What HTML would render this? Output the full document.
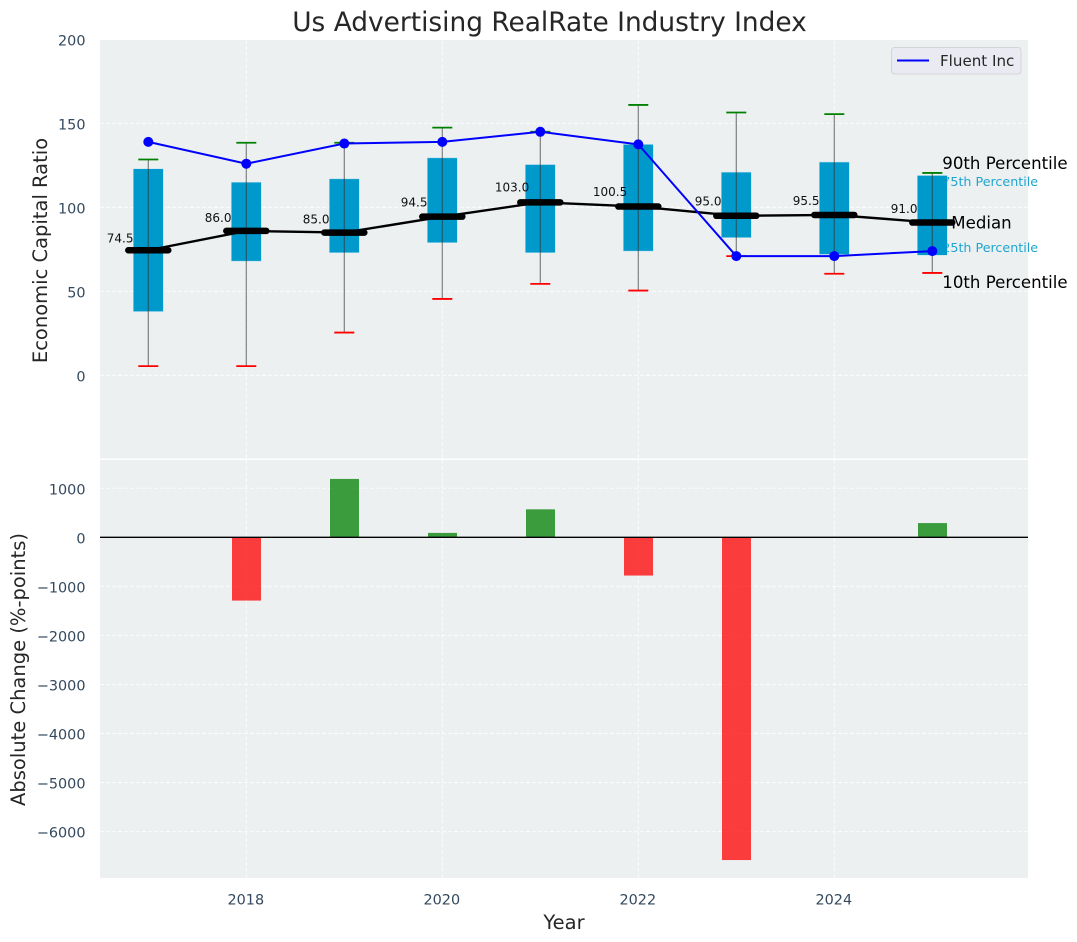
<!DOCTYPE html>
<html lang="en">
<head>
<meta charset="utf-8">
<title>Us Advertising RealRate Industry Index</title>
<style>
html,body{margin:0;padding:0;background:#fff;}
svg{display:block;font-family:"DejaVu Sans","Liberation Sans",sans-serif;}
</style>
</head>
<body>
<svg id="chart" xmlns="http://www.w3.org/2000/svg" width="1077" height="942" viewBox="0 0 1077 942">
  <rect x="0" y="0" width="1077" height="942" fill="#ffffff"/>
  <rect x="100" y="40" width="928" height="418.5" fill="#ecf0f1"/>
  <rect x="100" y="460" width="928" height="418" fill="#ecf0f1"/>
  <g id="grid"></g>
  <g id="labelsUnder"></g>
  <g id="boxes"></g>
  <g id="whiskers"></g>
  <g id="medians"></g>
  <g id="fluent"></g>
  <g id="labelsOver"></g>
  <g id="bars"></g>
  <line x1="100" x2="1028" y1="537.3" y2="537.3" stroke="#000000" stroke-width="1.3"/>
  <g id="ticks"></g>
  <text x="549.5" y="31" text-anchor="middle" font-size="26.4px" fill="#262626">Us Advertising RealRate Industry Index</text>
  <text transform="translate(47,250.5) rotate(-90)" text-anchor="middle" font-size="19.5px" fill="#262626">Economic Capital Ratio</text>
  <text transform="translate(25,669.5) rotate(-90)" text-anchor="middle" font-size="19.5px" fill="#262626">Absolute Change (%-points)</text>
  <text x="564" y="929" text-anchor="middle" font-size="19.5px" fill="#262626">Year</text>
  <g>
    <rect x="891.5" y="47.5" width="129.5" height="26.5" rx="3" fill="#eaeaf2" stroke="#d4d4d8" stroke-width="1"/>
    <line x1="897" x2="929" y1="60.5" y2="60.5" stroke="#0000ff" stroke-width="2"/>
    <text x="940" y="66" font-size="15.1px" fill="#262626">Fluent Inc</text>
  </g>
</svg>
<script>
const years = [2017, 2018, 2019, 2020, 2021, 2022, 2023, 2024, 2025];
const p90 = [128.5, 138.5, 138.5, 147.5, 145, 161, 156.5, 155.5, 120.5];
const q3 = [123, 115, 117, 129.5, 125.5, 137.5, 121, 127, 119];
const medianValues = [74.5, 86.0, 85.0, 94.5, 103.0, 100.5, 95.0, 95.5, 91.0];
const q1 = [38, 68, 73, 79, 73, 74, 82, 72, 71.5];
const p10 = [5.5, 5.5, 25.5, 45.5, 54.5, 50.5, 71, 60.5, 61];
const fluentInc = [139, 126, 138, 139, 145, 137.5, 71, 71, 74];
const absoluteChange = [0, -1290, 1190, 90, 570, -780, -6580, 0, 290];
const xTicks = [2018, 2020, 2022, 2024];
const topYTicks = [0, 50, 100, 150, 200];
const bottomYTicks = [1000, 0, -1000, -2000, -3000, -4000, -5000, -6000];

const sx = v => 148.3 + (v - 2017) * 98;
const sy = v => 375.4 - v * 1.68;
const sb = v => 537.3 - v * 0.04905;
const NS = 'http://www.w3.org/2000/svg';
function mk(tag, parent, props, text) {
  const el = document.createElementNS(NS, tag);
  for (const k in props) el.setAttribute(k, props[k]);
  if (text !== undefined) el.textContent = text;
  document.getElementById(parent).appendChild(el);
  return el;
}
const gridColor = 'rgba(255,255,255,0.8)';
const tickFont = '14.4px';

/* grid lines */
xTicks.forEach(t => {
  const a = mk('line', 'grid', {x1: sx(t), x2: sx(t), y1: 40, y2: 458.5, stroke: gridColor, 'stroke-width': 1, 'stroke-dasharray': '4 2'});
  
  
  const b = mk('line', 'grid', {x1: sx(t), x2: sx(t), y1: 460, y2: 878, stroke: gridColor, 'stroke-width': 1, 'stroke-dasharray': '4 2'});
  
  
  const l = mk('text', 'ticks', {x: sx(t) - 0.5, y: 904.6, 'text-anchor': 'middle', 'font-size': tickFont, fill: '#34495e'}, String(t));
  
  
});
topYTicks.forEach(t => {
  const a = mk('line', 'grid', {x1: 100, x2: 1028, y1: sy(t), y2: sy(t), stroke: gridColor, 'stroke-width': 1, 'stroke-dasharray': '4 2'});
  
  
  const l = mk('text', 'ticks', {x: 85.5, y: sy(t) + 6, 'text-anchor': 'end', 'font-size': tickFont, fill: '#34495e'}, String(t));
  
  
});
bottomYTicks.forEach(t => {
  const a = mk('line', 'grid', {x1: 100, x2: 1028, y1: sb(t), y2: sb(t), stroke: gridColor, 'stroke-width': 1, 'stroke-dasharray': '4 2'});
  
  
  const l = mk('text', 'ticks', {x: 85.5, y: sb(t) + 6, 'text-anchor': 'end', 'font-size': tickFont, fill: '#34495e'}, String(t).replace('-', '\u2212'));
  
  
});

/* percentile notes beneath the last box */
const last = years.length - 1;
const x25 = sx(years[last]);
const n75 = mk('text', 'labelsUnder', {x: x25 + 10, y: sy(q3[last]) + 10.5, 'font-size': '12.7px', fill: '#1fa5d0'}, '75th Percentile');


const n25 = mk('text', 'labelsUnder', {x: x25 + 10, y: sy(q1[last]) - 3.5, 'font-size': '12.7px', fill: '#1fa5d0'}, '25th Percentile');



/* printed median values: centred left of each box, raised proportionally to the value */
years.forEach((y, i) => {
  const t = mk('text', 'labelsOver', {x: sx(y) - 28.2, y: sy(medianValues[i] * 1.07) + 1.1, 'text-anchor': 'middle', 'font-size': '12px', fill: '#111111'}, medianValues[i].toFixed(1));
  
  
});

/* boxes */
years.forEach((y, i) => {
  const r = mk('rect', 'boxes', {x: sx(y) - 15, y: sy(q3[i]), width: 30, height: sy(q1[i]) - sy(q3[i]), fill: '#0099cc', stroke: '#bfe3ef', 'stroke-width': 0.5});
  
  
});

/* whiskers and caps */
years.forEach((y, i) => {
  const w = mk('line', 'whiskers', {x1: sx(y), x2: sx(y), y1: sy(p90[i]), y2: sy(p10[i]), stroke: 'rgba(50,50,50,0.6)', 'stroke-width': 1.2});
  
  
  const h = mk('line', 'whiskers', {x1: sx(y) - 10, x2: sx(y) + 10, y1: sy(p90[i]), y2: sy(p90[i]), stroke: '#008000', 'stroke-width': 1.8});
  
  
  const c = mk('line', 'whiskers', {x1: sx(y) - 10, x2: sx(y) + 10, y1: sy(p10[i]), y2: sy(p10[i]), stroke: '#ff0000', 'stroke-width': 1.8});
  
  
});

/* median series */
const medLine = mk('polyline', 'medians', {points: years.map((y, i) => sx(y) + ',' + sy(medianValues[i])).join(' '), fill: 'none', stroke: '#000000', 'stroke-width': 2.4});


years.forEach((y, i) => {
  const m = mk('line', 'medians', {x1: sx(y) - 20, x2: sx(y) + 20, y1: sy(medianValues[i]), y2: sy(medianValues[i]), stroke: '#000000', 'stroke-width': 6.5, 'stroke-linecap': 'round'});
  
  
});

/* fluent series */
const fl = mk('polyline', 'fluent', {points: years.map((y, i) => sx(y) + ',' + sy(fluentInc[i])).join(' '), fill: 'none', stroke: '#0000ff', 'stroke-width': 2});


years.forEach((y, i) => {
  const d = mk('circle', 'fluent', {cx: sx(y), cy: sy(fluentInc[i]), r: 5, fill: '#0000ff'});
  
  
});

/* black percentile notes, above everything */
const n90 = mk('text', 'fluent', {x: x25 + 10, y: sy(p90[last]) - 4, 'font-size': '16.6px', fill: '#000000'}, '90th Percentile');


const nMed = mk('text', 'fluent', {x: x25 + 19, y: sy(medianValues[last]) + 6, 'font-size': '16.6px', fill: '#000000'}, 'Median');


const n10 = mk('text', 'fluent', {x: x25 + 10, y: sy(p10[last]) + 15, 'font-size': '16.6px', fill: '#000000'}, '10th Percentile');



/* change bars */
years.forEach((y, i) => {
  const v = absoluteChange[i];
  if (v === 0) return;
  const top = Math.min(sb(v), sb(0));
  const b = mk('rect', 'bars', {x: sx(y) - 14.3, y: top, width: 29, height: Math.abs(sb(v) - sb(0)), fill: v > 0 ? 'rgba(0,128,0,0.75)' : 'rgba(255,0,0,0.75)'});
  
  
});
</script>
</body>
</html>
